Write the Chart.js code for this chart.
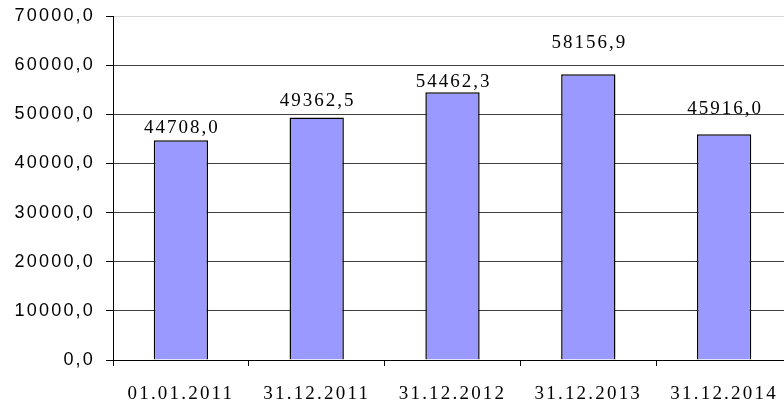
<!DOCTYPE html>
<html>
<head>
<meta charset="utf-8">
<script src="https://cdn.jsdelivr.net/npm/chart.js@4/dist/chart.umd.min.js"></script>
<style>
  html, body { margin: 0; padding: 0; background: #fff; overflow: hidden; }
  #wrap { width: 784px; height: 405px; overflow: hidden; position: relative; }
  canvas { display: block; }
</style>
</head>
<body>
<div id="wrap"><canvas id="c" width="800" height="405"></canvas></div>
<script>
const categories = ['01.01.2011', '31.12.2011', '31.12.2012', '31.12.2013', '31.12.2014'];
const values = [44708.0, 49362.5, 54462.3, 58156.9, 45916.0];
const yTicks = [0, 10000, 20000, 30000, 40000, 50000, 60000, 70000];

const fmt = v => Number(v).toFixed(1).replace('.', ',');

// label lift above bar top (px), as placed in the original
const labelLift = [13.5, 18, 12, 32.5, 26.5];

const spacingPlugin = {
  id: 'spacing',
  beforeDraw(chart) { chart.ctx.letterSpacing = '2.2px'; },
  beforeLayout(chart) { chart.ctx.letterSpacing = '2.2px'; }
};

const labelPlugin = {
  id: 'valueLabels',
  afterDatasetsDraw(chart) {
    const ctx = chart.ctx;
    const meta = chart.getDatasetMeta(0);
    ctx.save();
    ctx.letterSpacing = '2px';
    ctx.font = "19px 'Liberation Serif'";
    ctx.fillStyle = '#000';
    ctx.textAlign = 'center';
    ctx.textBaseline = 'alphabetic';
    meta.data.forEach((bar, i) => {
      const y = chart.scales.y.getPixelForValue(values[i]);
      ctx.fillText(fmt(values[i]), bar.x + 1, y - labelLift[i] + 6.3);
    });
    ctx.restore();
  }
};

new Chart(document.getElementById('c'), {
  type: 'bar',
  data: {
    labels: categories,
    datasets: [{
      data: values,
      backgroundColor: '#9999FF',
      borderColor: '#000',
      borderWidth: 1.5,
      categoryPercentage: 1,
      barPercentage: 0.4
    }]
  },
  options: {
    responsive: false,
    animation: false,
    devicePixelRatio: 1,
    layout: { padding: { top: 16, right: 8, left: 0, bottom: 0 } },
    plugins: { legend: { display: false }, tooltip: { enabled: false } },
    scales: {
      x: {
        afterFit(s) { s.height = 45; s.paddingLeft = 0; s.paddingRight = 0; },
        grid: { offset: true, drawOnChartArea: false, tickLength: 6, color: '#000', tickColor: '#000' },
        border: { color: '#000', width: 1 },
        ticks: {
          color: '#000',
          font: { family: "'Liberation Serif'", size: 19 },
          padding: 17,
          maxRotation: 0,
          autoSkip: false
        }
      },
      y: {
        min: 0,
        max: 70000,
        afterFit(s) { s.width = 113; s.paddingTop = 0; s.paddingBottom = 0; },
        afterBuildTicks(s) { s.ticks = yTicks.map(v => ({ value: v })); },
        grid: {
          color: c => (c.tick && c.tick.value === 70000) ? '#d8d8d8' : '#404040',
          tickColor: '#000',
          tickLength: 7,
          lineWidth: 1
        },
        border: { color: '#000', width: 1 },
        ticks: {
          color: '#000',
          font: { family: "'Liberation Sans'", size: 18 },
          padding: 11,
          callback: v => fmt(v)
        }
      }
    }
  },
  plugins: [spacingPlugin, labelPlugin]
});
</script>
</body>
</html>
